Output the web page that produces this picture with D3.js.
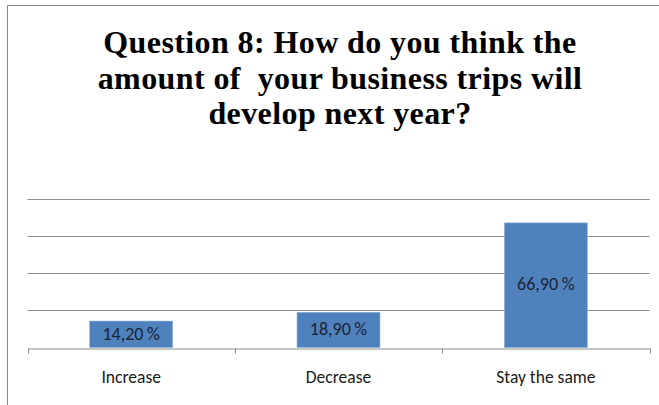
<!DOCTYPE html>
<html>
<head>
<meta charset="utf-8">
<script src="https://cdn.jsdelivr.net/npm/d3@7"></script>
<style>
  html, body { margin: 0; padding: 0; background: #fff; }
  svg { display: block; }
</style>
</head>
<body>
<div id="chart"></div>
<script>
// Survey answers and their shares (percent)
const categories = ["Increase", "Decrease", "Stay the same"];
const values = [14.2, 18.9, 66.9];
const gridTicks = [0, 20, 40, 60, 80];
const titleLines = [
  "Question 8: How do you think the",
  "amount of  your business trips will",
  "develop next year?"
];

const W = 659, H = 405;
const plot = { left: 27.5, right: 649.5, top: 198.5, bottom: 347.5 };

const svg = d3.select("#chart").append("svg")
  .attr("width", W).attr("height", H);

// chart area frame
svg.append("path")
  .attr("d", `M7.5,${H} L7.5,5.5 L${W},5.5`)
  .attr("fill", "none")
  .attr("stroke", "#8a8a8a")
  .attr("stroke-width", 1);

// title
const title = svg.append("text")
  .attr("text-anchor", "middle")
  .attr("font-family", "'Liberation Serif', 'Times New Roman', serif")
  .attr("font-weight", "bold")
  .attr("font-size", 32)
  .attr("letter-spacing", 0.4)
  .style("white-space", "pre")
  .attr("fill", "#000");
titleLines.forEach((line, i) => {
  title.append("tspan")
    .attr("x", 340)
    .attr("y", 53 + i * 35.5)
    .text(line);
});

const x = d3.scaleBand()
  .domain(categories)
  .range([plot.left, plot.right])
  .paddingInner(0.6)
  .paddingOuter(0.3);

const y = d3.scaleLinear()
  .domain([0, 80])
  .range([plot.bottom, plot.top]);

// horizontal gridlines
svg.append("g")
  .selectAll("line")
  .data(gridTicks.filter(t => t > 0))
  .join("line")
  .attr("x1", plot.left).attr("x2", plot.right)
  .attr("y1", d => Math.round(y(d)) + 0.5)
  .attr("y2", d => Math.round(y(d)) + 0.5)
  .attr("stroke", "#8c8c8c")
  .attr("stroke-width", 1);

// bars
svg.append("g")
  .selectAll("rect")
  .data(values)
  .join("rect")
  .attr("x", (d, i) => x(categories[i]))
  .attr("width", x.bandwidth())
  .attr("y", d => y(d))
  .attr("height", d => y(0) - y(d))
  .attr("fill", "#4f81bd")
  .attr("stroke", "#8db0da")
  .attr("stroke-width", 0.6);

// category axis
const xAxis = d3.axisBottom(x).tickSize(0).tickPadding(22);
const gx = svg.append("g")
  .attr("transform", `translate(0,${Math.round(y(0)) + 0.5})`)
  .call(xAxis);
gx.select(".domain").attr("stroke", "#8c8c8c");
gx.selectAll(".tick text")
  .attr("font-family", "Carlito, Calibri, Lato, sans-serif")
  .attr("font-size", 17.5)
  .attr("fill", "#1a1a1a");

// category boundary tick marks
const step = (plot.right - plot.left) / categories.length;
gx.selectAll(".bound")
  .data(d3.range(categories.length + 1))
  .join("line")
  .attr("class", "bound")
  .attr("x1", i => Math.round(plot.left + i * step) + 0.5)
  .attr("x2", i => Math.round(plot.left + i * step) + 0.5)
  .attr("y1", 0).attr("y2", 5)
  .attr("stroke", "#8c8c8c");

// value labels
const fmt = v => v.toFixed(2).replace(".", ",") + "\u2009%";
svg.append("g")
  .selectAll("text")
  .data(values)
  .join("text")
  .attr("x", (d, i) => x(categories[i]) + x.bandwidth() / 2)
  .attr("y", d => (y(d) + y(0)) / 2 - 1)
  .attr("dy", "0.35em")
  .attr("text-anchor", "middle")
  .attr("font-family", "Carlito, Calibri, Lato, sans-serif")
  .attr("font-size", 18)
  .attr("fill", "#1b2433")
  .text(d => fmt(d));
</script>
</body>
</html>
